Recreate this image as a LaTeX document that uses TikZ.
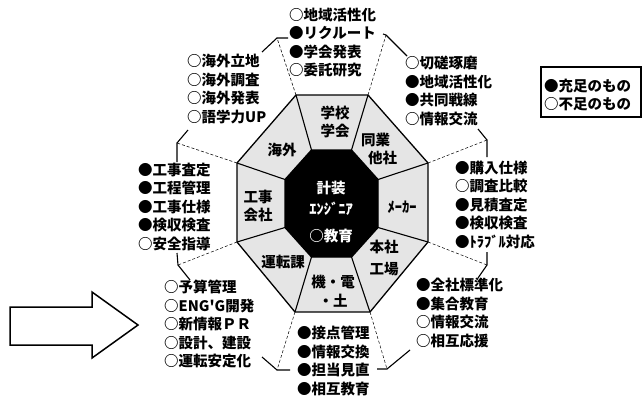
\documentclass[tikz,border=0pt]{standalone}
\usepackage{fontspec}
\newfontfamily\jp{Noto Sans CJK JP}
\begin{document}
\begin{tikzpicture}[x=1pt,y=-1pt,
  txt/.style={font=\jp\bfseries\fontsize{14.5}{18.5}\selectfont, align=left, inner sep=0pt, anchor=west},
  seg/.style={font=\jp\bfseries\fontsize{14.5}{18.5}\selectfont, align=center, inner sep=0pt},
  ctr/.style={seg, text=white},
  outl/.style={draw=black, line width=1.3pt, line join=miter},
  spoke/.style={draw=black, line width=1.1pt},
  dsh/.style={draw=black, line width=0.5pt, dash pattern=on 3pt off 2pt},
  tick/.style={draw=black, line width=1.1pt}
]
\useasboundingbox (0,0) rectangle (644,402);
% outer octagon vertices
\coordinate (O1) at (296,95);  \coordinate (O2) at (368,95);
\coordinate (O3) at (428,163); \coordinate (O4) at (428,242);
\coordinate (O5) at (370,312); \coordinate (O6) at (295,312);
\coordinate (O7) at (237,242); \coordinate (O8) at (237,163);
% inner octagon vertices
\coordinate (I1) at (311.5,150); \coordinate (I2) at (351.5,150);
\coordinate (I3) at (378,179.5); \coordinate (I4) at (378,227.5);
\coordinate (I5) at (351.5,257); \coordinate (I6) at (311.5,257);
\coordinate (I7) at (285,227.5); \coordinate (I8) at (285,179.5);
\path[outl, fill=gray!20] (O1)--(O2)--(O3)--(O4)--(O5)--(O6)--(O7)--(O8)--cycle;
\foreach \i in {1,...,8} { \draw[spoke] (I\i) -- (O\i); }
\path[outl, fill=black] (I1)--(I2)--(I3)--(I4)--(I5)--(I6)--(I7)--(I8)--cycle;
% centre
\node[ctr] (c1) at (331,188) {計装};
\node[ctr] (c2) at (331,209) {ｴﾝｼﾞﾆｱ};
\node[ctr] (c3) at (331,236) {○教育};
% segment labels
\node[seg] (s1) at (335,122) {学校\\学会};
\node[seg, align=left] (s2) at (379,149) {同業\\\hspace*{7pt}他社};
\node[seg] (s3) at (402,207) {ﾒｰｶｰ};
\node[seg, font=\jp\bfseries\fontsize{14.5}{22.5}\selectfont] (s4) at (384,258) {本社\\工場};
\node[seg] (s5) at (333,291) {機・電\\・土};
\node[seg] (s6) at (283,262) {運転課};
\node[seg] (s7) at (258,206) {工事\\会社};
\node[seg] (s8) at (282,150) {海外};
% text blocks
\node[txt] (b1) at (289,42.5) {○地域活性化\\●リクルート\\●学会発表\\○委託研究};
\node[txt] (b2) at (405,91) {○切磋琢磨\\●地域活性化\\●共同戦線\\○情報交流};
\node[txt] (b3) at (455,204.5) {●購入仕様\\○調査比較\\●見積査定\\●検収検査\\●ﾄﾗﾌﾞﾙ対応};
\node[txt] (b4) at (416,313) {●全社標準化\\●集合教育\\○情報交流\\○相互応援};
\node[txt] (b5) at (297,361) {●接点管理\\●情報交換\\●担当見直\\●相互教育};
\node[txt] (b6) at (164,324) {○予算管理\\○ENG'G開発\\○新情報ＰＲ\\○設計、建設\\○運転安定化};
\node[txt] (b7) at (138,206.5) {●工事査定\\●工程管理\\●工事仕様\\●検収検査\\○安全指導};
\node[txt] (b8) at (187,89) {○海外立地\\○海外調査\\○海外発表\\○語学力UP};
% legend
\draw[line width=1.3pt] (541,67) rectangle (641,117);
\node[txt] (lg) at (544,95) {●充足のもの\\○不足のもの};
% junctions
\coordinate (J1) at (277,38);  \coordinate (J2) at (386,35);
\coordinate (J3) at (487,140); \coordinate (J4) at (487,265);
\coordinate (J5) at (387,369); \coordinate (J6) at (277,370);
\coordinate (J7) at (178,265); \coordinate (J8) at (177,143);
\foreach \i in {1,...,8} { \draw[dsh] (O\i) -- (J\i); }
\coordinate (E1a) at (262,52);  \coordinate (E1b) at (288,38);
\coordinate (E2a) at (407,56);  \coordinate (E2b) at (383,34);
\coordinate (E3a) at (478,129); \coordinate (E3b) at (487,157);
\coordinate (E4a) at (487,252); \coordinate (E4b) at (478,278);
\coordinate (E5a) at (410,350); \coordinate (E5b) at (377,369);
\coordinate (E6a) at (290,370); \coordinate (E6b) at (262,357);
\coordinate (E7a) at (177,253); \coordinate (E7b) at (190,280);
\coordinate (E8a) at (188,130); \coordinate (E8b) at (177,162);
\foreach \i in {1,...,8} { \draw[tick] (E\i a) -- (J\i) -- (E\i b); }
% big arrow
\draw[line width=1.5pt, line join=miter] (10,307) -- (92,307) -- (92,292) -- (138,325) -- (92,358) -- (92,345) -- (10,345) -- cycle;
\end{tikzpicture}
\end{document}
